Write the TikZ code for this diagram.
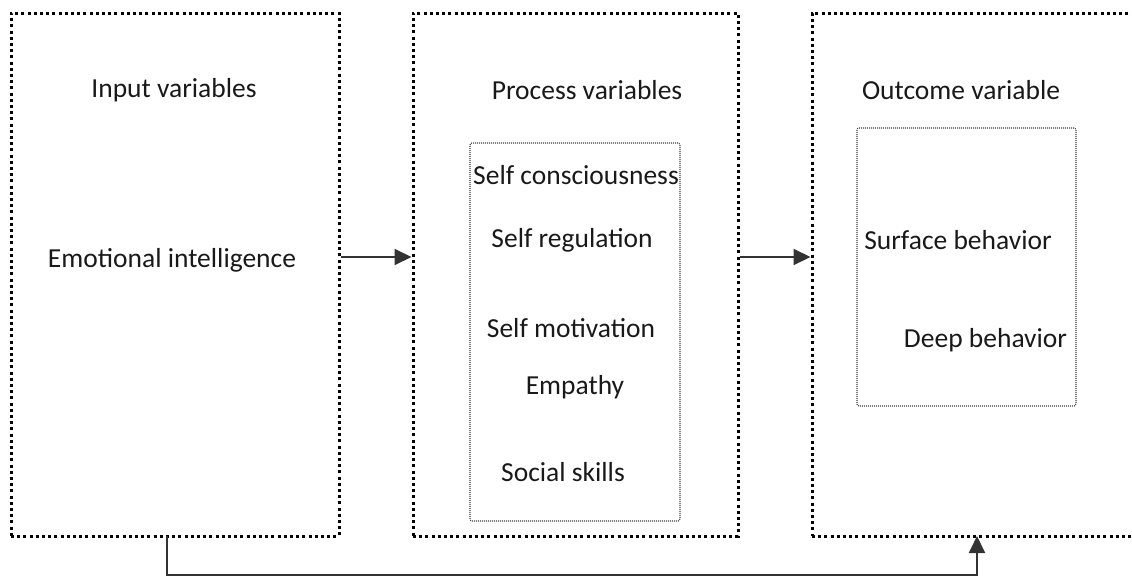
\documentclass[tikz,border=0pt]{standalone}
\usepackage{fontspec}
\setmainfont{Carlito}
\usetikzlibrary{arrows.meta}
\begin{document}
\begin{tikzpicture}[x=1pt,y=-1pt,
  outerbox/.style={draw=black,line width=3pt,dash pattern=on 3pt off 3.2pt,inner sep=0pt},
  innerbox/.style={draw=black!75,line width=1.1pt,dash pattern=on 1pt off 1pt,rounded corners=2pt,inner sep=0pt},
  lbl/.style={font=\fontsize{27.5}{30}\selectfont,text=black!90,inner sep=0pt,anchor=center},
  conn/.style={draw=black!80,line width=2pt,-{Triangle[length=17pt,width=16pt]}}]
\useasboundingbox (0,0) rectangle (1132,576);
\clip (0,0) rectangle (1132,576);
% outer boxes
\node[outerbox,minimum width=328pt,minimum height=523pt] (inbox) at (175,274.5) {};
\node[outerbox,minimum width=325pt,minimum height=523pt] (procbox) at (575.5,274.5) {};
\node[outerbox,minimum width=340pt,minimum height=523pt] (outbox) at (982,274.5) {};
% inner boxes
\node[innerbox,minimum width=210pt,minimum height=378pt] (procin) at (575,332) {};
\node[innerbox,minimum width=219pt,minimum height=278pt] (outin) at (966.5,267) {};
% labels
\node[lbl] (t1) at (174,90) {Input variables};
\node[lbl] (t2) at (172,260) {Emotional intelligence};
\node[lbl] (t3) at (587,90) {Process variables};
\node[lbl] (p1) at (576,175) {Self consciousness};
\node[lbl] (p2) at (572,240) {Self regulation};
\node[lbl] (p3) at (571,328) {Self motivation};
\node[lbl] (p4) at (575,387) {Empathy};
\node[lbl] (p5) at (563,472) {Social skills};
\node[lbl] (t4) at (961,90) {Outcome variable};
\node[lbl] (o1) at (958,240) {Surface behavior};
\node[lbl] (o2) at (985.5,340) {Deep behavior};
% connectors
\coordinate (a1s) at (inbox.east |- 0,257);
\coordinate (a1e) at (procbox.west |- 0,257);
\coordinate (a2s) at (procbox.east |- 0,257);
\coordinate (a2e) at (outbox.west |- 0,257);
\draw[conn] (a1s) -- (a1e);
\draw[conn] (a2s) -- (a2e);
\coordinate (bs) at (167,536);
\coordinate (be) at (977,536);
\draw[conn] (bs) -- (167,574.5) -- (977,574.5) -- (be);
\end{tikzpicture}
\end{document}
